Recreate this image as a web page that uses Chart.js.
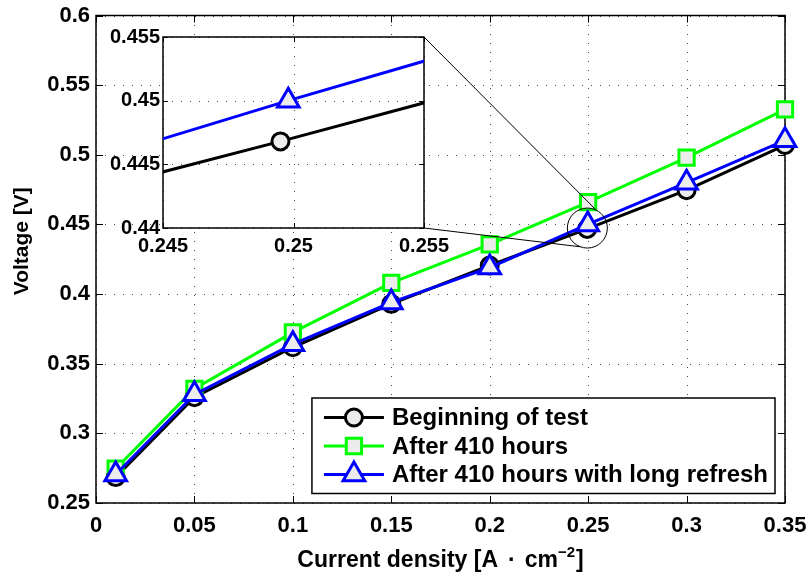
<!DOCTYPE html>
<html>
<head>
<meta charset="utf-8">
<title>Voltage vs current density</title>
<script src="https://cdn.jsdelivr.net/npm/chart.js@4.4.1/dist/chart.umd.min.js"></script>
<style>
  html, body { margin: 0; padding: 0; background: #fff; }
  #wrap { position: relative; width: 811px; height: 574px; }
  #wrap canvas { position: absolute; left: 0; top: 0; }
</style>
</head>
<body>
<div id="wrap">
  <canvas id="main" width="811" height="574"></canvas>
  <canvas id="zoom" width="811" height="574"></canvas>
</div>
<script>
// current density [A/cm2] per series (measured points differ slightly near 0.25)
const jBegin   = [0.01, 0.05, 0.1, 0.15, 0.2, 0.2495, 0.3, 0.35];
const j410h    = [0.01, 0.05, 0.1, 0.15, 0.2, 0.25,   0.3, 0.35];
const jRefresh = [0.01, 0.05, 0.1, 0.15, 0.2, 0.2498, 0.3, 0.35];

// cell voltage [V]
const vBegin   = [0.2686, 0.326, 0.3618, 0.393, 0.4205, 0.4468, 0.4746, 0.507];
const v410h    = [0.2746, 0.332, 0.3725, 0.408, 0.4356, 0.466,  0.498,  0.5326];
const vRefresh = [0.2705, 0.328, 0.364,  0.394, 0.419,  0.45,   0.48,   0.5104];

const seriesNames = ['Beginning of test', 'After 410 hours', 'After 410 hours with long refresh'];

// axis ranges and tick steps
const xRange = [0, 0.35],   xStep = 0.05;
const yRange = [0.25, 0.6], yStep = 0.05;
const zxRange = [0.245, 0.255], zxStep = 0.005;
const zyRange = [0.44, 0.455],  zyStep = 0.005;

// region marked on the main axes
const zoomSpot = { x: 0.2496, y: 0.4474, r: 20 };

const FONT = "'Liberation Sans', Arial, Helvetica, sans-serif";
const MARKER_FILL = '#ececec';

const styles = [
  { color: '#000000', shape: 'circle',   r: 8.5,  order: 3 },
  { color: '#00ff00', shape: 'rect',     r: 10.8, order: 2 },
  { color: '#0000ff', shape: 'triangle', r: 12.5, order: 1 }
];
const xs = [jBegin, j410h, jRefresh];
const ys = [vBegin, v410h, vRefresh];

function makeDatasets() {
  return seriesNames.map((name, i) => ({
    label: name,
    data: xs[i].map((x, k) => ({ x: x, y: ys[i][k] })),
    borderColor: styles[i].color,
    borderWidth: 3,
    pointStyle: styles[i].shape,
    pointRadius: styles[i].r,
    pointHoverRadius: styles[i].r,
    pointBorderWidth: 3,
    pointBorderColor: styles[i].color,
    pointBackgroundColor: MARKER_FILL,
    order: styles[i].order,
    tension: 0
  }));
}

const fmt = v => String(parseFloat(Number(v).toFixed(4)));

function markerPath(ctx, shape, x, y, r) {
  ctx.beginPath();
  if (shape === 'circle') {
    ctx.arc(x, y, r, 0, Math.PI * 2);
  } else if (shape === 'rect') {
    const s = r * Math.SQRT1_2;
    ctx.rect(x - s, y - s, 2 * s, 2 * s);
  } else {
    for (let k = 0; k < 3; k++) {
      const a = k * 2 * Math.PI / 3;
      const px = x + Math.sin(a) * r, py = y - Math.cos(a) * r;
      if (k) ctx.lineTo(px, py); else ctx.moveTo(px, py);
    }
    ctx.closePath();
  }
}

// fixed axis sizes so the plot box sits exactly inside the layout padding
function fixSize(size, vertical) {
  return s => {
    if (vertical) s.width = size; else s.height = size;
    s.paddingLeft = s.paddingRight = s.paddingTop = s.paddingBottom = 0;
  };
}

// dotted grid, inward ticks and a closed box, matlab style
const boxAxes = {
  id: 'boxAxes',
  beforeDatasetsDraw(chart, args, opts) {
    const { ctx, chartArea: a, scales: { x, y } } = chart;
    const tl = opts.tick || 7;
    ctx.save();
    if (opts.fill) {
      ctx.fillStyle = '#fff';
      ctx.fillRect(a.left, a.top, a.right - a.left, a.bottom - a.top);
    }
    ctx.strokeStyle = 'rgba(0,0,0,0.7)';
    ctx.lineWidth = 1;
    ctx.setLineDash([1, 8]);
    x.ticks.forEach(t => {
      const px = Math.round(x.getPixelForValue(t.value)) + 0.5;
      ctx.beginPath(); ctx.moveTo(px, a.bottom); ctx.lineTo(px, a.top); ctx.stroke();
    });
    y.ticks.forEach(t => {
      const py = Math.round(y.getPixelForValue(t.value)) + 0.5;
      ctx.beginPath(); ctx.moveTo(a.left, py); ctx.lineTo(a.right, py); ctx.stroke();
    });
    ctx.setLineDash([]);
    ctx.strokeStyle = '#000';
    x.ticks.forEach(t => {
      const px = Math.round(x.getPixelForValue(t.value)) + 0.5;
      ctx.beginPath();
      ctx.moveTo(px, a.bottom); ctx.lineTo(px, a.bottom - tl);
      ctx.moveTo(px, a.top); ctx.lineTo(px, a.top + tl);
      ctx.stroke();
    });
    y.ticks.forEach(t => {
      const py = Math.round(y.getPixelForValue(t.value)) + 0.5;
      ctx.beginPath();
      ctx.moveTo(a.left, py); ctx.lineTo(a.left + tl, py);
      ctx.moveTo(a.right, py); ctx.lineTo(a.right - tl, py);
      ctx.stroke();
    });
    ctx.lineWidth = 1.5;
    ctx.strokeRect(a.left, a.top, a.right - a.left, a.bottom - a.top);
    ctx.restore();
  }
};

// boxed legend in the lower right corner, line + marker samples
const boxLegend = {
  id: 'boxLegend',
  afterDraw(chart) {
    const { ctx, chartArea: a } = chart;
    ctx.save();
    ctx.font = 'bold 24px ' + FONT;
    const tw = Math.max(...seriesNames.map(s => ctx.measureText(s).width));
    const right = a.right - 10, bottom = a.bottom - 9.5;
    const rowH = 28.5, h = 95.5;
    const textX = right - 7 - tw;
    const left = textX - 80, top = bottom - h;
    ctx.fillStyle = '#fff';
    ctx.fillRect(left, top, right - left, h);
    ctx.strokeStyle = '#000';
    ctx.lineWidth = 1.5;
    ctx.strokeRect(left, top, right - left, h);
    seriesNames.forEach((name, i) => {
      const cy = top + 19.5 + i * rowH;
      const st = styles[i];
      ctx.strokeStyle = st.color;
      ctx.lineWidth = 3;
      ctx.beginPath(); ctx.moveTo(left + 12, cy); ctx.lineTo(left + 72, cy); ctx.stroke();
      markerPath(ctx, st.shape, left + 42, cy, st.r);
      ctx.fillStyle = MARKER_FILL; ctx.fill(); ctx.stroke();
      ctx.fillStyle = '#000';
      ctx.textAlign = 'left';
      ctx.textBaseline = 'middle';
      ctx.fillText(name, textX, cy + 1);
    });
    ctx.restore();
  }
};

// axis titles; the x title has a TeX-like spaced dot and a superscript
const axisTitles = {
  id: 'axisTitles',
  afterDraw(chart) {
    const { ctx, chartArea: a } = chart;
    ctx.save();
    ctx.fillStyle = '#000';
    ctx.textBaseline = 'alphabetic';
    ctx.textAlign = 'left';
    const big = 'bold 23px ' + FONT, small = 'bold 15px ' + FONT;
    const parts = [
      { t: 'Current density [A', f: big, gap: 10, dy: 0 },
      { t: '\u00b7', f: big, gap: 9, dy: 0 },
      { t: 'cm', f: big, gap: 0, dy: 0 },
      { t: '\u22122', f: small, gap: 1, dy: -10 },
      { t: ']', f: big, gap: 0, dy: 0 }
    ];
    let total = 0;
    parts.forEach(p => { ctx.font = p.f; p.w = ctx.measureText(p.t).width; total += p.w + p.gap; });
    let x0 = (a.left + a.right) / 2 - total / 2;
    const base = 567;
    parts.forEach(p => {
      ctx.font = p.f;
      ctx.fillText(p.t, x0, base + p.dy);
      x0 += p.w + p.gap;
    });

    ctx.translate(22, (a.top + a.bottom) / 2 - 18);
    ctx.rotate(-Math.PI / 2);
    ctx.textAlign = 'center';
    ctx.textBaseline = 'middle';
    ctx.font = 'bold 21px ' + FONT;
    ctx.fillText('Voltage [V]', 0, 0);
    ctx.restore();
  }
};

function tickFont(size) {
  return { family: FONT, size: size, weight: 'bold' };
}

const mainChart = new Chart(document.getElementById('main'), {
  type: 'line',
  data: { datasets: makeDatasets() },
  options: {
    responsive: false,
    animation: false,
    events: [],
    clip: false,
    layout: { padding: { left: 0, top: 14, right: 26, bottom: 0 } },
    plugins: {
      legend: { display: false },
      tooltip: { enabled: false },
      boxAxes: { tick: 7 }
    },
    scales: {
      x: {
        type: 'linear', min: xRange[0], max: xRange[1],
        afterFit: fixSize(71, false),
        grid: { display: false, drawTicks: false },
        border: { display: false },
        ticks: { stepSize: xStep, padding: 10, color: '#000', font: tickFont(22), callback: fmt }
      },
      y: {
        type: 'linear', min: yRange[0], max: yRange[1],
        afterFit: fixSize(96, true),
        grid: { display: false, drawTicks: false },
        border: { display: false },
        ticks: { stepSize: yStep, padding: 6, color: '#000', font: tickFont(22), callback: fmt }
      }
    }
  },
  plugins: [boxAxes, boxLegend, axisTitles]
});

// circle on the main axes and the two lines joining it to the inset
const zoomLinks = {
  id: 'zoomLinks',
  afterDraw(chart) {
    const { ctx, chartArea: a } = chart;
    const mx = mainChart.scales.x, my = mainChart.scales.y;
    const cx = mx.getPixelForValue(zoomSpot.x), cy = my.getPixelForValue(zoomSpot.y);
    const r = zoomSpot.r;
    const up = -63.7 * Math.PI / 180, down = 110.6 * Math.PI / 180;
    ctx.save();
    ctx.strokeStyle = '#000';
    ctx.lineWidth = 1;
    ctx.beginPath(); ctx.arc(cx, cy, r, 0, Math.PI * 2); ctx.stroke();
    ctx.beginPath();
    ctx.moveTo(a.right, a.top); ctx.lineTo(cx + r * Math.cos(up), cy + r * Math.sin(up));
    ctx.moveTo(a.right, a.bottom); ctx.lineTo(cx + r * Math.cos(down), cy + r * Math.sin(down));
    ctx.stroke();
    ctx.restore();
  }
};

new Chart(document.getElementById('zoom'), {
  type: 'line',
  data: { datasets: makeDatasets() },
  options: {
    responsive: false,
    animation: false,
    events: [],
    clip: 0,
    layout: { padding: { left: 0, top: 37, right: 387, bottom: 0 } },
    plugins: {
      legend: { display: false },
      tooltip: { enabled: false },
      boxAxes: { tick: 5, fill: true }
    },
    scales: {
      x: {
        type: 'linear', min: zxRange[0], max: zxRange[1],
        afterFit: fixSize(346, false),
        grid: { display: false, drawTicks: false },
        border: { display: false },
        ticks: { stepSize: zxStep, padding: 6, color: '#000', font: tickFont(20), callback: fmt }
      },
      y: {
        type: 'linear', min: zyRange[0], max: zyRange[1],
        afterFit: fixSize(163, true),
        grid: { display: false, drawTicks: false },
        border: { display: false },
        ticks: { stepSize: zyStep, padding: 3, color: '#000', font: tickFont(20), callback: fmt }
      }
    }
  },
  plugins: [boxAxes, zoomLinks]
});
</script>
</body>
</html>
